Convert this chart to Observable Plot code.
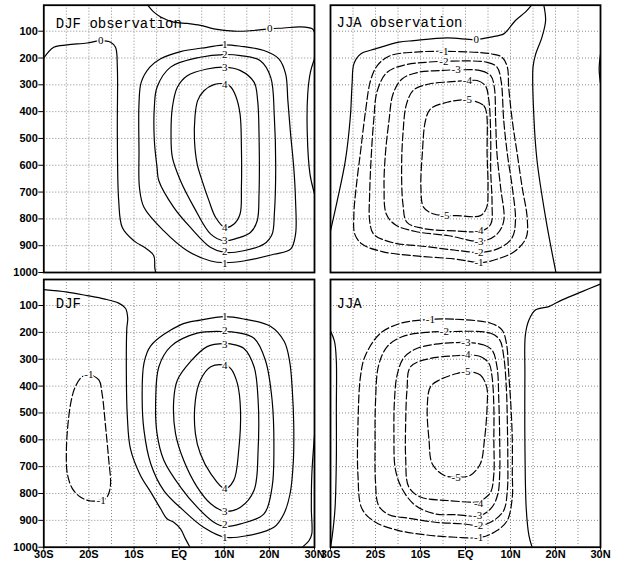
<!DOCTYPE html>
<html><head><meta charset="utf-8">
<script src="https://cdn.jsdelivr.net/npm/d3@7"></script>
<script src="https://cdn.jsdelivr.net/npm/@observablehq/plot@0.6"></script>
<style>
body{margin:0;background:#fff}
#chart{position:relative;width:619px;height:569px;background:#fff}
#chart svg{position:absolute;left:0;top:0}
</style></head><body><div id="chart"></div><script>
// ---- axes ----
const latTicks = [-30, -20, -10, 0, 10, 20, 30];
const latTickLabels = ["30S", "20S", "10S", "EQ", "10N", "20N", "30N"];
const latGrid = [-25, -20, -15, -10, -5, 0, 5, 10, 15, 20, 25];
const presTicks = [100, 200, 300, 400, 500, 600, 700, 800, 900, 1000];
const panelTitles = ["DJF observation", "JJA observation", "DJF", "JJA"];

// ---- DJF observation: contours as [lat, hPa] ----
const djfObsZeroTop = [[-7.1,0],[-5.6,29],[-4.1,47],[-1.2,66],[1.8,71],[4.7,78],[7.7,91],[12.1,100],[16.0,98],[20.1,91],[23.2,88],[26.9,84],[29.5,91],[30,104]];
const djfObsZeroLeft = [[-30,200],[-27.8,160],[-24.8,151],[-20.4,144],[-17.4,135],[-15.2,141],[-14.1,160],[-13.7,234],[-13.7,483],[-13.4,732],[-12.6,832],[-10.0,882],[-7.1,913],[-5.6,938],[-5.4,982],[-5.2,1000]];
const djfObsZeroRight = [[30,203],[29.1,253],[28.5,334],[28.4,483],[29.0,633],[30,707]];
const djfObsOne = [[10.1,151],[6.2,160],[0.3,176],[-4.1,203],[-6.5,234],[-8.4,290],[-8.9,371],[-8.9,546],[-8.8,683],[-7.8,757],[-3.4,845],[1.8,919],[7.0,957],[10.1,963],[14.3,957],[21.0,932],[24.7,913],[25.8,857],[25.8,732],[25.4,608],[24.7,483],[24.1,359],[23.6,259],[22.1,203],[18.8,172],[13.6,156]];
const djfObsTwo = [[10.0,187],[4.7,197],[-1.9,234],[-4.9,309],[-5.5,384],[-5.5,508],[-4.9,608],[-4.5,658],[-1.2,757],[2.5,832],[7.0,907],[10.0,925],[14.3,919],[18.8,894],[20.6,857],[21.1,782],[21.4,608],[21.1,421],[20.3,272],[18.0,210],[13.6,191]];
const djfObsThree = [[10.0,234],[6.2,241],[1.8,266],[-0.4,309],[-1.5,384],[-1.8,483],[-1.5,571],[0.3,658],[3.3,757],[7.0,857],[10.0,882],[12.9,872],[15.8,851],[17.3,807],[17.7,708],[17.7,483],[17.4,359],[16.6,290],[13.6,247]];
const djfObsFour = [[10.3,297],[7.7,299],[5.5,322],[4.1,359],[3.5,421],[3.4,508],[4.0,596],[5.1,658],[6.6,732],[8.1,795],[10.1,832],[12.1,820],[13.5,782],[13.8,683],[13.8,533],[13.5,409],[12.5,340],[11.4,307]];
const djfObsLabels = [[-17.4,135,"0"],[20.1,91,"0"],[10.1,151,"1"],[10.1,966,"1"],[10.1,187,"2"],[10.1,922,"2"],[10.1,234,"3"],[10.1,879,"3"],[10.1,297,"4"],[10.1,832,"4"]];

// ---- JJA observation ----
const jjaObsZeroLeft = [[-30,845],[-28.5,732],[-26.7,583],[-25.6,421],[-25.2,297],[-24.8,222],[-23.3,185],[-20.0,166],[-14.8,141],[-11.5,135],[-4.1,125],[2.4,131],[5.6,122],[8.5,110],[9.6,91],[11.1,60],[13.3,29],[14.7,3]];
const jjaObsZeroRight = [[17.4,3],[17.8,60],[17.0,122],[15.6,185],[15.0,234],[15.2,421],[15.9,583],[17.8,795],[19.3,932],[20.1,1000]];
const jjaObsZeroEdge = [[30,185],[29.7,240],[30,295]];
const jjaObsM1 = [[-4.1,175],[5.9,185],[8.1,197],[9.3,234],[9.6,309],[10.4,434],[11.5,558],[12.6,683],[13.7,795],[13.5,869],[11.1,919],[8.1,944],[3.5,963],[-2.2,950],[-11.1,938],[-18.5,922],[-23.0,894],[-24.6,857],[-24.8,782],[-24.3,683],[-23.3,546],[-22.2,396],[-21.1,284],[-19.6,228],[-16.7,191],[-11.1,178]];
const jjaObsM2 = [[-4.1,212],[4.8,216],[7.0,234],[7.9,284],[8.5,434],[9.3,558],[10.4,683],[11.1,807],[10.4,869],[7.8,907],[3.5,925],[-2.2,917],[-8.9,903],[-16.3,888],[-20.4,857],[-21.3,807],[-21.3,708],[-21.0,583],[-20.4,434],[-19.6,322],[-17.4,253],[-13.3,225],[-8.9,216]];
const jjaObsM3 = [[-1.5,244],[3.3,247],[5.6,266],[6.4,309],[6.7,434],[7.0,558],[7.8,683],[8.5,807],[7.0,857],[3.5,884],[-3.7,863],[-11.1,847],[-15.6,822],[-17.6,782],[-18.1,683],[-17.8,558],[-17.0,434],[-16.1,334],[-14.1,278],[-10.4,253],[-5.9,247]];
const jjaObsM4 = [[0.9,284],[2.6,284],[4.4,303],[5.2,359],[5.6,496],[5.6,620],[5.9,745],[5.6,820],[3.5,845],[-2.2,845],[-9.6,835],[-13.0,813],[-13.9,745],[-14.2,608],[-13.9,483],[-13.1,371],[-11.5,319],[-8.1,297],[-3.7,289]];
const jjaObsM5 = [[0.9,356],[4.1,378],[4.7,409],[4.8,558],[5.0,683],[4.7,757],[3.3,788],[-1.9,788],[-4.1,788],[-7.0,782],[-9.3,757],[-9.9,683],[-9.6,558],[-8.9,434],[-7.8,390],[-4.1,365],[-0.7,356]];
const jjaObsLabels = [[2.4,131,"0"],[-4.8,175,"-1"],[3.0,963,"-1"],[-4.8,212,"-2"],[3.0,925,"-2"],[-2.1,244,"-3"],[3.0,884,"-3"],[0.4,284,"-4"],[3.0,845,"-4"],[0.4,356,"-5"],[-4.6,788,"-5"]];

// ---- DJF (model) ----
const djfZeroLeft = [[-30,41],[-24.8,50],[-20.4,63],[-16.7,75],[-13.4,91],[-11.9,110],[-11.4,147],[-11.6,185],[-11.7,359],[-11.5,508],[-10.8,633],[-8.6,732],[-6.3,795],[-4.1,857],[-2.7,894],[-1.2,907],[0.3,932],[1.4,969],[2.4,1000]];
const djfZeroRight = [[27.3,1000],[28.8,975],[29.4,950],[29.3,857],[29.4,732],[30,583]];
const djfOne = [[10.1,141],[4.7,154],[0.3,172],[-6.3,250],[-7.8,315],[-8.2,439],[-7.8,564],[-6.3,689],[-3.4,789],[1.0,864],[5.4,926],[10.1,963],[15.1,957],[21.0,926],[23.2,876],[24.6,800],[25.3,683],[25.4,546],[25.1,421],[24.5,309],[23.3,234],[20.3,178],[14.3,150]];
const djfTwo = [[10.1,197],[4.0,203],[-1.9,253],[-4.5,328],[-5.2,452],[-4.9,577],[-3.4,676],[0.3,776],[4.0,851],[7.7,907],[10.1,923],[13.6,913],[18.8,876],[20.6,776],[21.0,639],[20.6,452],[19.1,303],[16.6,222],[12.9,201]];
const djfThree = [[10.1,241],[6.2,253],[2.5,309],[-0.4,378],[-1.2,452],[-0.8,577],[1.0,676],[4.0,776],[7.0,838],[10.1,866],[13.6,851],[16.6,788],[17.5,639],[17.5,452],[16.6,328],[14.3,259],[11.4,243]];
const djfFour = [[10.1,322],[7.0,328],[4.7,378],[3.6,452],[3.6,577],[4.7,652],[7.0,726],[10.1,782],[12.1,751],[13.2,639],[13.6,490],[12.9,390],[11.4,334]];
const djfMinusOne = [[-19.9,358],[-17.8,377],[-17.1,426],[-16.3,552],[-15.6,676],[-15.2,762],[-15.6,800],[-16.3,819],[-17.6,825],[-19.6,828],[-21.9,813],[-23.7,781],[-24.8,725],[-25.0,650],[-24.7,552],[-23.9,452],[-23.0,402],[-21.5,365]];
const djfLabels = [[10.1,141,"1"],[10.1,965,"1"],[10.1,191,"2"],[10.1,917,"2"],[10.1,245,"3"],[10.1,866,"3"],[10.1,322,"4"],[10.1,782,"4"],[-20.0,358,"-1"],[-17.3,825,"-1"]];

// ---- JJA (model) ----
const jjaZeroLeft = [[-30,195],[-29.1,234],[-28.7,309],[-28.7,483],[-28.7,670],[-29.0,857],[-29.6,957],[-30,1000]];
const jjaZeroRight = [[14.8,1000],[14.1,957],[13.5,857],[13.2,608],[13.2,359],[13.3,210],[14.1,154],[15.6,116],[18.5,104],[19.6,95],[21.5,79],[25.9,48],[30,20]];
const jjaM1 = [[-7.2,151],[-2.2,151],[5.6,166],[8.1,191],[9.1,241],[9.6,353],[10.1,477],[10.4,602],[10.4,726],[10.4,813],[9.3,900],[7.0,938],[3.5,963],[-2.2,963],[-8.9,954],[-14.8,938],[-20,907],[-23.0,857],[-23.9,732],[-23.9,546],[-23.3,359],[-22.2,284],[-18.9,203],[-14.4,166],[-11.1,156]];
const jjaM2 = [[-4.1,197],[5.6,203],[7.6,228],[8.5,290],[9.1,415],[9.3,539],[9.4,664],[9.3,788],[8.5,863],[6.3,900],[3.5,919],[-0.7,913],[-6.7,907],[-12.6,892],[-17.0,879],[-19.3,845],[-20,757],[-20.1,608],[-20,459],[-19.3,322],[-17.4,253],[-14.1,216],[-8.9,200]];
const jjaM3 = [[0.7,238],[4.1,247],[5.9,266],[7.0,328],[7.4,452],[7.6,602],[7.6,726],[7.2,801],[5.9,851],[3.3,882],[-2.2,879],[-6.7,876],[-11.1,845],[-14.1,782],[-15.6,708],[-15.9,583],[-15.8,459],[-15.2,359],[-13.7,294],[-11.1,262],[-6.7,244]];
const jjaM4 = [[0.7,284],[3.3,290],[5.2,315],[5.9,365],[6.3,477],[6.3,602],[6.3,726],[5.6,795],[4.1,820],[3.3,830],[-4.1,826],[-10.0,813],[-12.6,776],[-13.3,664],[-13.3,539],[-13.0,415],[-12.2,328],[-7.8,297],[-2.2,287]];
const jjaM5 = [[0.7,346],[3.3,359],[4.7,403],[4.8,477],[4.2,602],[3.3,689],[1.1,732],[-1.5,739],[-4.8,732],[-7.4,689],[-8.1,602],[-8.5,477],[-7.8,403],[-5.9,378],[-1.9,353]];
const jjaLabels = [[-7.8,151,"-1"],[2.9,963,"-1"],[-4.7,197,"-2"],[2.9,919,"-2"],[0.1,238,"-3"],[2.7,882,"-3"],[0.1,284,"-4"],[2.9,838,"-4"],[0.1,346,"-5"],[-2.1,739,"-5"]];

// ---- build ----
const W = 619, H = 569;
const tickFont = "'Liberation Sans Narrow', 'Liberation Sans', Arial, sans-serif";
function line(pts, level, closed) { return {pts, level, closed}; }

function panel({lines, labels, title, box, xAxis, yAxis, tdx, tdy}) {
  const [x0, x1, y0, y1] = box;
  const marks = [
    Plot.gridX(latGrid, {stroke: "#8a8a8a", strokeOpacity: 1, strokeWidth: 1, strokeDasharray: "1,2"}),
    Plot.gridY(presTicks.slice(0, -1), {stroke: "#8a8a8a", strokeOpacity: 1, strokeWidth: 1, strokeDasharray: "1,2"}),
    Plot.text([title], {frameAnchor: "top-left", dx: tdx, dy: tdy, lineAnchor: "top", textAnchor: "start",
      fontFamily: "'Liberation Mono', 'DejaVu Sans Mono', monospace", fontSize: 14, fill: "black"}),
    ...lines.map(c => Plot.line(c.pts, {
      x: d => d[0], y: d => d[1],
      curve: c.closed ? "catmull-rom-closed" : "catmull-rom",
      stroke: "black", strokeWidth: 1.2,
      strokeDasharray: c.level < 0 ? "8,3" : null,
      clip: true
    })),
    Plot.text(labels, {x: d => d[0], y: d => d[1], text: d => d[2],
      fontFamily: "'Liberation Serif', 'DejaVu Serif', serif", fontSize: 11,
      fill: "black", stroke: "white", strokeWidth: 3}),
    Plot.frame({stroke: "black", strokeWidth: 1.8})
  ];
  if (xAxis) marks.push(Plot.axisX({ticks: latTicks, tickSize: 3, tickPadding: 0, label: null,
    tickFormat: d => latTickLabels[latTicks.indexOf(d)],
    fontSize: 11, fontWeight: "bold", fontFamily: tickFont}));
  if (yAxis) marks.push(Plot.axisY({ticks: presTicks, tickSize: 5, tickPadding: 1, label: null,
    tickFormat: d => String(d),
    fontSize: 11, fontWeight: "bold", fontFamily: tickFont}));
  return Plot.plot({
    width: W, height: H,
    marginLeft: x0, marginRight: W - x1, marginTop: y0, marginBottom: H - y1,
    x: {domain: [-30, 30], axis: xAxis ? undefined : null},
    y: {domain: [1000, 3], axis: yAxis ? undefined : null},
    style: {background: "transparent", color: "black", overflow: "visible"},
    marks
  });
}

const panels = [
  {title: panelTitles[0], box: [43.3, 314, 4.7, 272], xAxis: false, yAxis: true, tdx: 12, tdy: 13,
   labels: djfObsLabels,
   lines: [line(djfObsZeroTop, 0, false), line(djfObsZeroLeft, 0, false), line(djfObsZeroRight, 0, false),
           line(djfObsOne, 1, true), line(djfObsTwo, 2, true), line(djfObsThree, 3, true), line(djfObsFour, 4, true)]},
  {title: panelTitles[1], box: [330, 600, 4.7, 272], xAxis: false, yAxis: false, tdx: 6, tdy: 12,
   labels: jjaObsLabels,
   lines: [line(jjaObsZeroLeft, 0, false), line(jjaObsZeroRight, 0, false), line(jjaObsZeroEdge, 0, false),
           line(jjaObsM1, -1, true), line(jjaObsM2, -2, true), line(jjaObsM3, -3, true), line(jjaObsM4, -4, true), line(jjaObsM5, -5, true)]},
  {title: panelTitles[2], box: [43.3, 314, 279, 546.7], xAxis: true, yAxis: true, tdx: 12, tdy: 19,
   labels: djfLabels,
   lines: [line(djfZeroLeft, 0, false), line(djfZeroRight, 0, false), line(djfMinusOne, -1, true),
           line(djfOne, 1, true), line(djfTwo, 2, true), line(djfThree, 3, true), line(djfFour, 4, true)]},
  {title: panelTitles[3], box: [330, 600, 279, 546.7], xAxis: true, yAxis: false, tdx: 6, tdy: 19,
   labels: jjaLabels,
   lines: [line(jjaZeroLeft, 0, false), line(jjaZeroRight, 0, false),
           line(jjaM1, -1, true), line(jjaM2, -2, true), line(jjaM3, -3, true), line(jjaM4, -4, true), line(jjaM5, -5, true)]}
];

const chart = document.getElementById("chart");
for (const p of panels) chart.appendChild(panel(p));
</script></body></html>
